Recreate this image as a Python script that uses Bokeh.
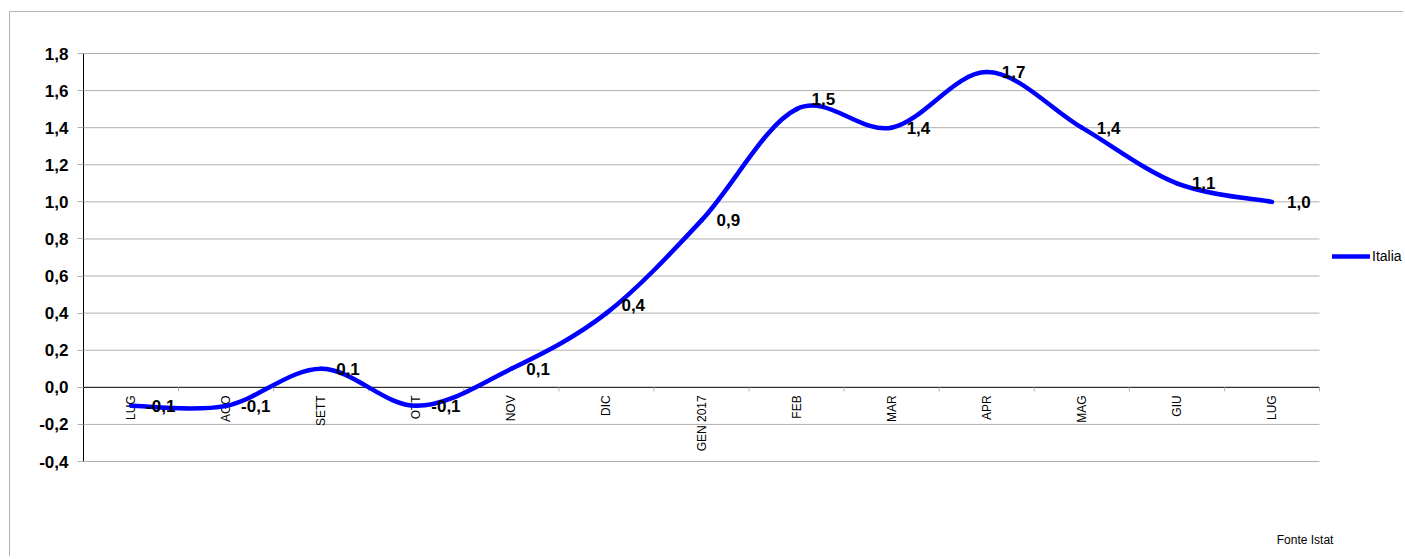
import math
from bokeh.plotting import figure
from bokeh.models import (Range1d, FixedTicker, Legend, LegendItem, Label,
                          ColumnDataSource)
from bokeh.core.properties import value
from bokeh.embed import file_html
from bokeh.resources import INLINE

# ---- data ----
months = ["LUG", "AGO", "SETT", "OTT", "NOV", "DIC", "GEN 2017",
          "FEB", "MAR", "APR", "MAG", "GIU", "LUG"]
values = [-0.1, -0.1, 0.1, -0.1, 0.1, 0.4, 0.9, 1.5, 1.4, 1.7, 1.4, 1.1, 1.0]
y_ticks = [-0.4, -0.2, 0.0, 0.2, 0.4, 0.6, 0.8, 1.0, 1.2, 1.4, 1.6, 1.8]
y_tick_labels = ["-0,4", "-0,2", "0,0", "0,2", "0,4", "0,6", "0,8",
                 "1,0", "1,2", "1,4", "1,6", "1,8"]
series_name = "Italia"
source_note = "Fonte Istat"

FONT = "Liberation Sans"
BLUE = "#0000FF"
GRID = "#b0b0b0"

# layout (pixels)
W, H = 1394, 545
LEFT = 73
PLOT_W, PLOT_H = 1236, 408     # category area / value area in pixels
TOP_PAD = 2                    # room above the top gridline
TOP = 41 - TOP_PAD
RIGHT_PAD = W - LEFT - PLOT_W  # legend area to the right of the categories
LEGEND_ROW_Y = 206             # legend row centre, pixels below the frame top
LEGEND_ROW_H = 14

n = len(months)
xs = [i + 0.5 for i in range(n)]
x_end = n + RIGHT_PAD * n / PLOT_W
y_lo, y_hi = y_ticks[0], y_ticks[-1]
upp = (y_hi - y_lo) / PLOT_H   # value units per pixel
y_end = y_hi + TOP_PAD * upp
y_start = y_end - (H - TOP) * upp

p = figure(width=W, height=H,
           x_range=Range1d(0, x_end), y_range=Range1d(y_start, y_end),
           output_backend="svg", toolbar_location=None, x_axis_type=None,
           min_border_left=LEFT, min_border_right=0,
           min_border_top=TOP, min_border_bottom=0)
p.styles = {"border-top": "1px solid #b4b4b4", "border-left": "1px solid #b4b4b4",
            "margin-top": "11px", "margin-left": "9px"}
p.outline_line_color = None
p.background_fill_color = "white"
p.border_fill_color = "white"

# y axis
p.yaxis.ticker = FixedTicker(ticks=y_ticks)
p.yaxis.major_label_overrides = dict(zip(y_ticks, y_tick_labels))
p.yaxis.bounds = (y_lo, y_hi)
p.yaxis.axis_line_color = "black"
p.yaxis.axis_line_width = 1
p.yaxis.major_tick_line_color = GRID
p.yaxis.major_tick_out = 6
p.yaxis.major_tick_in = 0
p.yaxis.minor_tick_line_color = None
p.yaxis.major_label_standoff = 9
p.yaxis.major_label_text_font = FONT
p.yaxis.major_label_text_font_size = "17px"
p.yaxis.major_label_text_font_style = "bold"
p.yaxis.major_label_text_color = "black"

p.xgrid.visible = False
p.ygrid.visible = False

# horizontal gridlines over the category area only
grid_y = [t for t in y_ticks if t != 0.0]
p.segment(x0=[0] * len(grid_y), y0=grid_y, x1=[n] * len(grid_y), y1=grid_y,
          line_color=GRID, line_width=1)

# zero line (category axis)
p.segment(x0=[0], y0=[0.0], x1=[n], y1=[0.0], line_color="black", line_width=1)

# category boundary ticks along zero line
bx = [float(k) for k in range(1, n + 1)]
p.segment(x0=bx, y0=[0.0] * n, x1=bx, y1=[-0.022] * n, line_color=GRID, line_width=1)

# category labels (rotated, hanging from the zero line)
p.text(x=xs, y=[0.0] * n, text=months, angle=math.pi / 2,
       text_align="right", text_baseline="middle", y_offset=8,
       text_font=value(FONT), text_font_size="12px", text_color="black")

# smoothed line (Catmull-Rom -> cubic Bezier segments)
x0s, y0s, x1s, y1s, cx0s, cy0s, cx1s, cy1s = [], [], [], [], [], [], [], []
for i in range(n - 1):
    a = max(i - 1, 0)
    d = min(i + 2, n - 1)
    x0s.append(xs[i]); y0s.append(values[i])
    x1s.append(xs[i + 1]); y1s.append(values[i + 1])
    cx0s.append(xs[i] + (xs[i + 1] - xs[a]) / 6.0)
    cy0s.append(values[i] + (values[i + 1] - values[a]) / 6.0)
    cx1s.append(xs[i + 1] - (xs[d] - xs[i]) / 6.0)
    cy1s.append(values[i + 1] - (values[d] - values[i]) / 6.0)
curve = p.bezier(x0=x0s, y0=y0s, x1=x1s, y1=y1s, cx0=cx0s, cy0=cy0s,
                 cx1=cx1s, cy1=cy1s,
                 line_color=BLUE, line_width=4.5, line_cap="round")

# data labels
label_dy = [0, 0, 0, 0, 0, -8, 0, -10, 0, 0, 0, 0, 0]
lab_src = ColumnDataSource(dict(
    x=xs, y=values,
    t=[f"{v:.1f}".replace(".", ",") for v in values],
    dy=label_dy))
p.text(x="x", y="y", text="t", source=lab_src, x_offset=15, y_offset="dy",
       text_align="left", text_baseline="middle",
       text_font=value(FONT), text_font_size="17px", text_font_style="bold",
       text_color="black")

# legend (location y measured from the bottom of the frame)
leg_bottom = (H - TOP) - LEGEND_ROW_Y - LEGEND_ROW_H // 2
legend = Legend(items=[LegendItem(label=series_name, renderers=[curve])],
                location=(PLOT_W + 13, leg_bottom), padding=0, margin=0, spacing=0,
                glyph_width=38, glyph_height=LEGEND_ROW_H, label_height=LEGEND_ROW_H,
                label_standoff=2, label_text_font=FONT,
                label_text_font_size="14px", label_text_baseline="middle",
                label_text_color="black",
                border_line_color=None, background_fill_alpha=0)
p.add_layout(legend)

# source note
p.add_layout(Label(x=12.55, y=-0.825, text=source_note, text_font=FONT,
                   text_font_size="12px", text_baseline="middle",
                   text_align="left", text_color="black"))

open("out.html", "w").write(file_html(p, INLINE))
